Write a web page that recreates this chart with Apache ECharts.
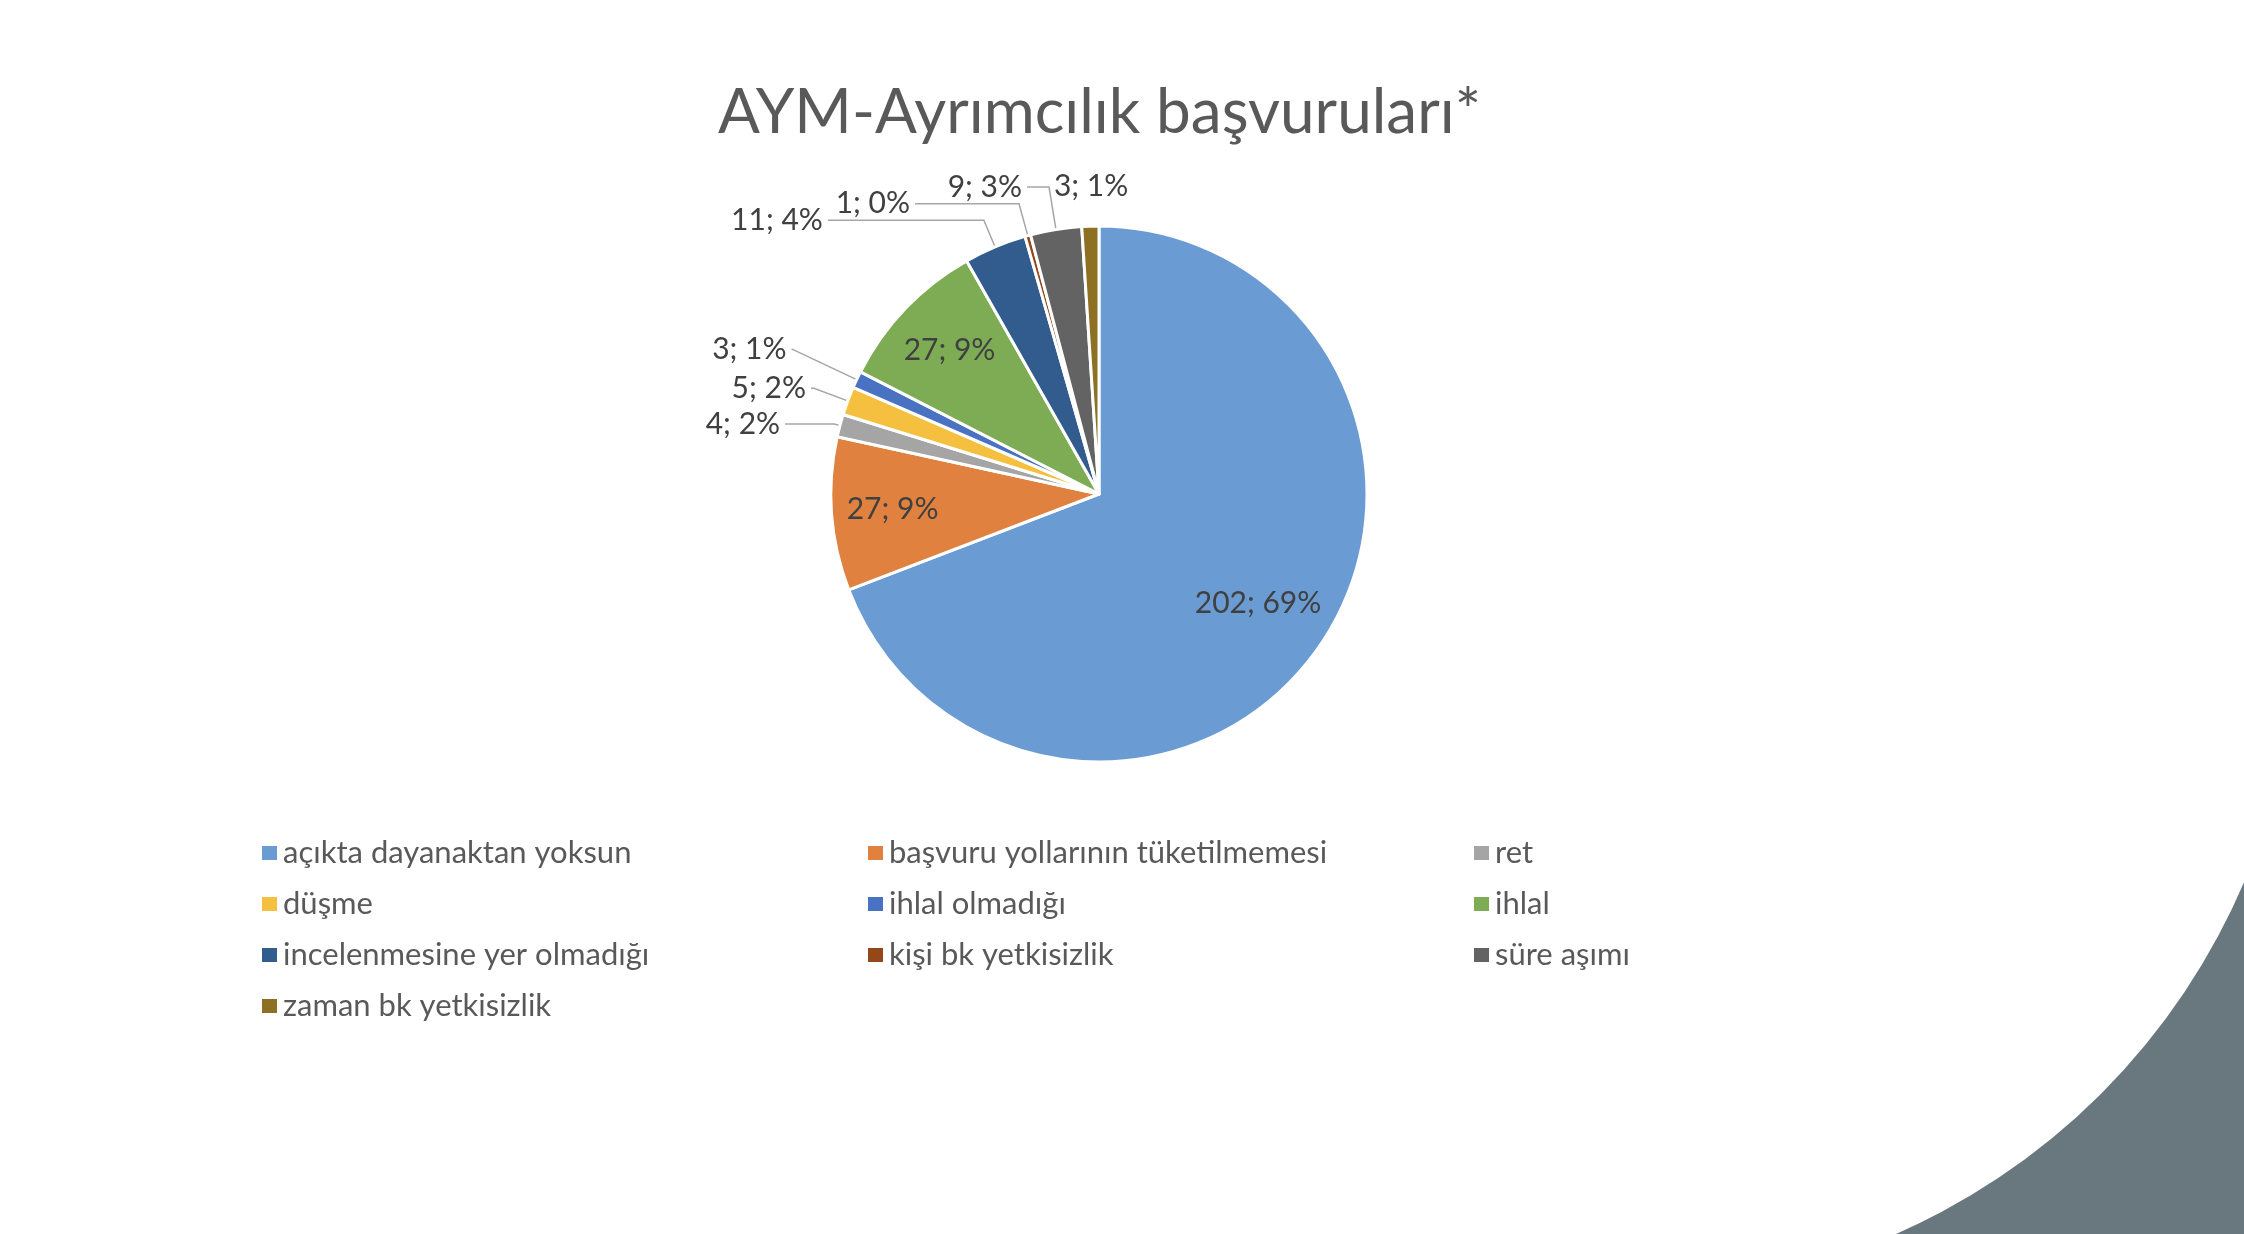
<!DOCTYPE html>
<html>
<head>
<meta charset="utf-8">
<style>
  html, body { margin: 0; padding: 0; background: #ffffff; }
  #chart { width: 2244px; height: 1234px; }
</style>
<script src="https://cdn.jsdelivr.net/npm/echarts@6/dist/echarts.min.js"></script>
</head>
<body>
<div id="chart"></div>
<script>
const titleText = 'AYM-Ayrımcılık başvuruları*';
const categories = [
  'açıkta dayanaktan yoksun',
  'başvuru yollarının tüketilmemesi',
  'ret',
  'düşme',
  'ihlal olmadığı',
  'ihlal',
  'incelenmesine yer olmadığı',
  'kişi bk yetkisizlik',
  'süre aşımı',
  'zaman bk yetkisizlik'
];
const values = [202, 27, 4, 5, 3, 27, 11, 1, 9, 3];
const colors = ['#6A9BD2', '#E0813F', '#A5A5A5', '#F5C040', '#4A72C2', '#7DAC55', '#335C8E', '#94481A', '#636363', '#8D7024'];

// label placement config (styling only)
const insideIdx = [1, 5];
const insideBigIdx = [0];
const leaderLen = { 2: [6, 49], 3: [36, 3], 4: [72, 0], 6: [29, 156], 7: [33, 104], 8: [43, 22], 9: [40, 0] };

const FONT = 'Lato';
const R = 268;
const CENTER = [1099, 494];

const mainData = values.map((v, i) => {
  const inside = insideIdx.indexOf(i) >= 0 || insideBigIdx.indexOf(i) >= 0;
  const len = leaderLen[i] || [15, 15];
  const label = { show: !inside };
  if (i === 9) { label.distanceToLabelLine = -2; }
  return {
    name: categories[i],
    value: v,
    itemStyle: { color: colors[i] },
    label: label,
    labelLine: { show: !inside && i !== 9, length: len[0], length2: len[1] }
  };
});

function overlayData(idxList) {
  return values.map((v, i) => ({
    name: categories[i],
    value: v,
    label: { show: idxList.indexOf(i) >= 0 }
  }));
}

function overlaySeries(inner, idxList) {
  return {
    type: 'pie',
    center: CENTER,
    radius: [inner, R],
    startAngle: 90,
    clockwise: true,
    silent: true,
    percentPrecision: 0,
    itemStyle: { color: 'rgba(0,0,0,0)', borderWidth: 0 },
    label: {
      position: 'inside',
      formatter: '{c}; {d}%',
      fontFamily: FONT,
      fontSize: 30,
      color: '#404040'
    },
    labelLine: { show: false },
    emphasis: { disabled: true },
    data: overlayData(idxList)
  };
}

const legendCols = [0, 1, 2].map(c => categories.filter((_, i) => i % 3 === c));
const legendLeft = [257, 863, 1469];

const chart = echarts.init(document.getElementById('chart'), null, { renderer: 'canvas' });
chart.setOption({
  animation: false,
  backgroundColor: 'transparent',
  title: {
    text: titleText,
    left: 713,
    top: 77,
    textStyle: { fontFamily: FONT, fontSize: 62, fontWeight: 'normal', color: '#595959' }
  },
  graphic: {
    elements: [
      { type: 'rect', z: 0, silent: true, shape: { x: 1790, y: 790, width: 460, height: 450 }, style: { fill: '#69787F' } },
      { type: 'circle', z: 1, silent: true, shape: { cx: 1625, cy: 618, r: 673 }, style: { fill: '#ffffff' } }
    ]
  },
  legend: legendCols.map((col, j) => ({
    data: col,
    orient: 'vertical',
    left: legendLeft[j],
    top: 830,
    icon: 'rect',
    itemWidth: 15,
    itemHeight: 14,
    itemGap: 15,
    selectedMode: false,
    itemStyle: { borderWidth: 0 },
    textStyle: { fontFamily: FONT, fontSize: 31, color: '#595959', lineHeight: 36, padding: [0, 0, 0, 1] }
  })),
  series: [
    {
      type: 'pie',
      name: 'main',
      center: CENTER,
      radius: [0, R],
      startAngle: 90,
      clockwise: true,
      avoidLabelOverlap: false,
      percentPrecision: 0,
      itemStyle: { borderColor: '#ffffff', borderWidth: 3 },
      label: {
        position: 'outside',
        formatter: '{c}; {d}%',
        fontFamily: FONT,
        fontSize: 30,
        color: '#404040',
        distanceToLabelLine: 5
      },
      labelLine: { lineStyle: { color: '#A6A6A6', width: 1.5 }, smooth: false },
      labelLayout: function (params) {
        if (params.dataIndex === 9) { return { align: 'center' }; }
        return {};
      },
      emphasis: { disabled: true },
      data: mainData
    },
    overlaySeries(140, insideIdx),
    overlaySeries(112, insideBigIdx)
  ]
});
</script>
</body>
</html>
